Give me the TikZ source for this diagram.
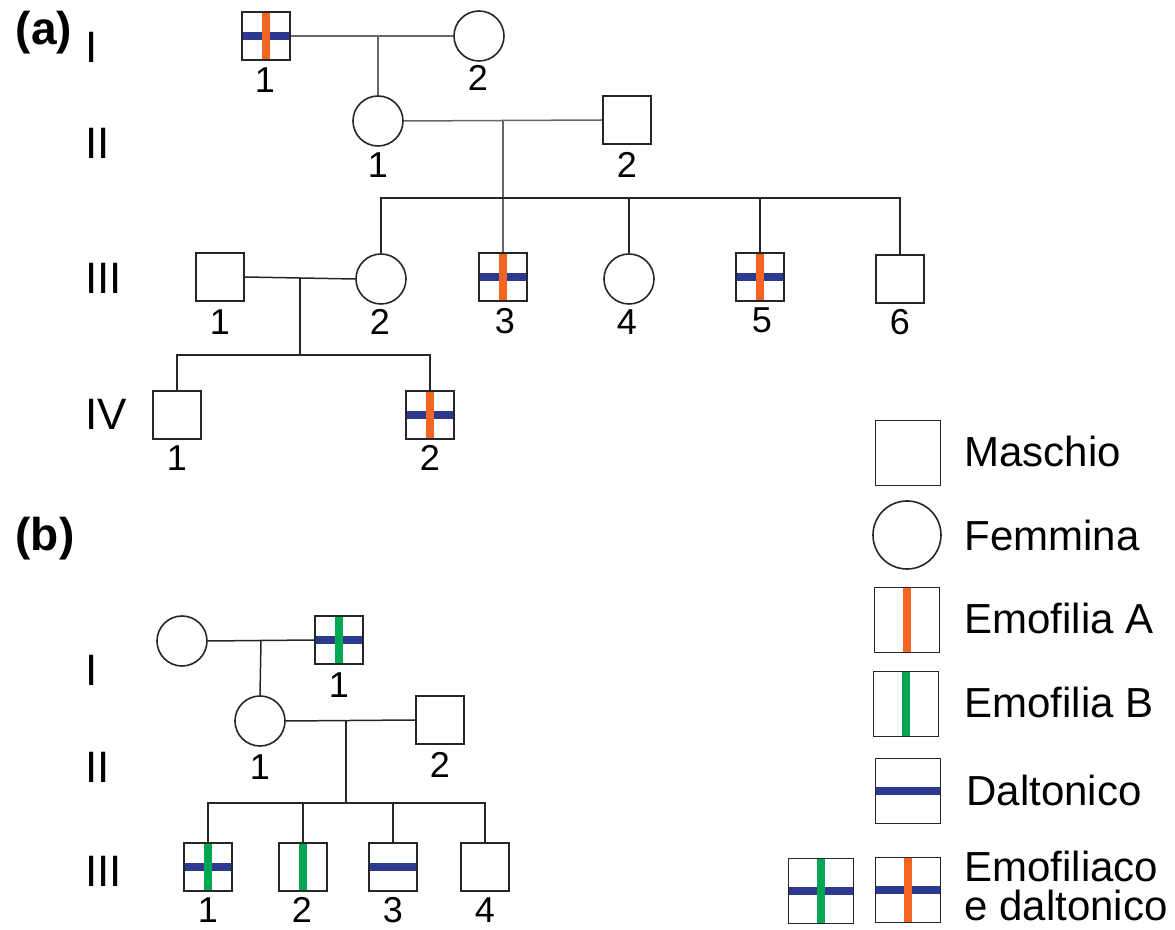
\documentclass[tikz,border=0pt]{standalone}
\usepackage{fontspec}
\setmainfont{Liberation Sans}
\definecolor{hA}{HTML}{F26522}
\definecolor{hB}{HTML}{00A651}
\definecolor{dal}{HTML}{2B3990}
\begin{document}
\begin{tikzpicture}[x=0.5pt,y=-0.5pt,
  msq/.style={draw=black!85, line width=0.9pt, rectangle, minimum size=24pt, inner sep=0pt},
  fci/.style={draw=black!85, line width=0.8pt, circle, minimum size=25pt, inner sep=0pt},
  lgsq/.style={msq, minimum size=32.5pt},
  lgci/.style={fci, minimum size=34pt},
  vbar/.style 2 args={path picture={
    \fill[#1] ([xshift=-#2]path picture bounding box.north) rectangle ([xshift=#2]path picture bounding box.south);}},
  hbar/.style 2 args={path picture={
    \fill[#1] ([yshift=-#2]path picture bounding box.west) rectangle ([yshift=#2]path picture bounding box.east);}},
  xbar/.style n args={3}{path picture={
    \fill[#2] ([yshift=-#3]path picture bounding box.west) rectangle ([yshift=#3]path picture bounding box.east);
    \fill[#1] ([xshift=-#3]path picture bounding box.north) rectangle ([xshift=#3]path picture bounding box.south);}},
  num/.style={font=\fontsize{18}{20}\selectfont, inner sep=0pt},
  genl/.style={font=\fontsize{22}{24}\selectfont, inner sep=0pt, anchor=west},
  lgt/.style={font=\fontsize{21}{24}\selectfont, inner sep=0pt, anchor=west},
  part/.style={font=\bfseries\fontsize{23}{25}\selectfont, inner sep=0pt},
  lnA/.style={draw=black!60, line width=0.75pt},
  lnB/.style={draw=black!85, line width=0.75pt}
]
\useasboundingbox (0,0) rectangle (1175,930);

% ---------- (a) ----------
\node[part] (pa) at (44,33) {(a)};
\node[genl] (gaI) at (85,47) {I};
\node[genl] (gaII) at (85,143) {II};
\node[genl] (gaIII) at (85,278) {III};
\node[genl] (gaIV) at (85,414) {IV};

\node[msq, xbar={hA}{dal}{1.8pt}] (a11) at (266,36) {};
\node[fci] (a12) at (479,36) {};
\node[fci] (a21) at (378,121) {};
\node[msq] (a22) at (627,120) {};
\node[msq] (a31) at (220,277) {};
\node[fci] (a32) at (381,279) {};
\node[msq, xbar={hA}{dal}{1.8pt}] (a33) at (503,277) {};
\node[fci] (a34) at (629,279) {};
\node[msq, xbar={hA}{dal}{1.8pt}] (a35) at (760,277) {};
\node[msq] (a36) at (900,279) {};
\node[msq] (a41) at (177,415) {};
\node[msq, xbar={hA}{dal}{1.8pt}] (a42) at (430,415) {};

\node[num] (na11) at (265,80) {1};
\node[num] (na12) at (478,78) {2};
\node[num] (na21) at (378,165) {1};
\node[num] (na22) at (627,165) {2};
\node[num] (na31) at (220,322) {1};
\node[num] (na32) at (380,322) {2};
\node[num] (na33) at (505,321) {3};
\node[num] (na34) at (627,322) {4};
\node[num] (na35) at (762,320) {5};
\node[num] (na36) at (900,322) {6};
\node[num] (na41) at (177,458) {1};
\node[num] (na42) at (430,458) {2};

\coordinate (mIa) at (378,36);
\coordinate (mIIa) at (503,121);
\coordinate (sIIIa) at (0,198);
\coordinate (mIIIa) at (300,278);
\coordinate (sIVa) at (0,355);

\draw[lnA] (a11.east) -- (a12.west);
\draw[lnA] (mIa) -- (a21.north);
\draw[lnA] (a21.east) -- (a22.west);
\draw[lnA] (mIIa) -- (a33.north);
\draw[lnB] (a32.north) -- (a32.north |- sIIIa) -- (a36.north |- sIIIa) -- (a36.north);
\draw[lnB] (a34.north) -- (a34.north |- sIIIa);
\draw[lnB] (a35.north) -- (a35.north |- sIIIa);
\draw[lnB] (a31.east) -- (a32.west);
\draw[lnB] (mIIIa) -- (mIIIa |- sIVa);
\draw[lnB] (a41.north) -- (a41.north |- sIVa) -- (a42.north |- sIVa) -- (a42.north);

% ---------- (b) ----------
\node[part] (pb) at (45,539) {(b)};
\node[genl] (gbI) at (85,670) {I};
\node[genl] (gbII) at (85,767) {II};
\node[genl] (gbIII) at (85,871) {III};

\node[fci] (b11) at (182,641) {};
\node[msq, xbar={hB}{dal}{1.8pt}] (b12) at (339,640) {};
\node[fci] (b21) at (260,721) {};
\node[msq] (b22) at (440,720) {};
\node[msq, xbar={hB}{dal}{1.8pt}] (b31) at (208,867) {};
\node[msq, vbar={hB}{1.8pt}] (b32) at (303,867) {};
\node[msq, hbar={dal}{2.1pt}] (b33) at (393,867) {};
\node[msq] (b34) at (485,867) {};

\node[num] (nb12) at (339,685) {1};
\node[num] (nb21) at (260,767) {1};
\node[num] (nb22) at (440,765) {2};
\node[num] (nb31) at (208,910) {1};
\node[num] (nb32) at (302,910) {2};
\node[num] (nb33) at (393,910) {3};
\node[num] (nb34) at (485,910) {4};

\coordinate (mIb) at (261,641);
\coordinate (mIIb) at (346,721);
\coordinate (sIIIb) at (0,803);

\draw[lnB] (b11.east) -- (b12.west);
\draw[lnB] (mIb) -- (b21.north);
\draw[lnB] (b21.east) -- (b22.west);
\draw[lnB] (mIIb) -- (mIIb |- sIIIb);
\draw[lnB] (b31.north) -- (b31.north |- sIIIb) -- (b34.north |- sIIIb) -- (b34.north);
\draw[lnB] (b32.north) -- (b32.north |- sIIIb);
\draw[lnB] (b33.north) -- (b33.north |- sIIIb);

% ---------- legend ----------
\node[lgsq] (L1) at (908,453) {};
\node[lgci] (L2) at (907,535) {};
\node[lgsq, vbar={hA}{2pt}] (L3) at (907,620) {};
\node[lgsq, vbar={hB}{2pt}] (L4) at (906,704) {};
\node[lgsq, hbar={dal}{2pt}] (L5) at (908,791) {};
\node[lgsq, xbar={hB}{dal}{2pt}] (L6a) at (821,891) {};
\node[lgsq, xbar={hA}{dal}{2pt}] (L6b) at (908,890) {};

\node[lgt] (T1) at (964,451) {Maschio};
\node[lgt] (T2) at (964,535) {Femmina};
\node[lgt] (T3) at (964,618) {Emofilia A};
\node[lgt] (T4) at (964,702) {Emofilia B};
\node[lgt] (T5) at (966,790) {Daltonico};
\node[lgt] (T6) at (964,866) {Emofiliaco};
\node[lgt] (T7) at (964,905) {e daltonico};
\end{tikzpicture}
\end{document}
